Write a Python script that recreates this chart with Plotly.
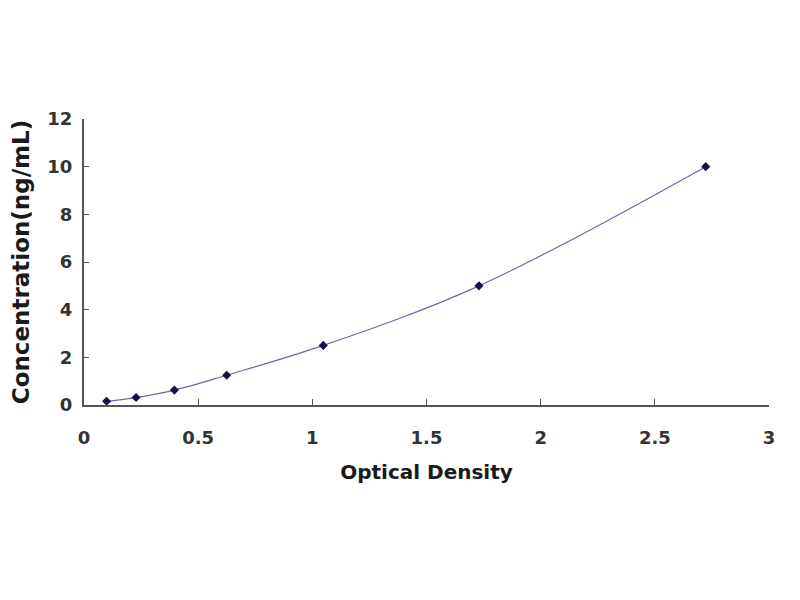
import plotly.graph_objects as go

# standard curve: optical density vs concentration
od = [0.099, 0.228, 0.396, 0.625, 1.048, 1.730, 2.723]
conc = [0.156, 0.312, 0.625, 1.25, 2.5, 5, 10]

x_ticks = [0, 0.5, 1, 1.5, 2, 2.5, 3]
y_ticks = [0, 2, 4, 6, 8, 10, 12]

fnt = "DejaVu Sans"

curve = go.Scatter(x=od, y=conc, mode="lines", line_shape="spline",
                   line=dict(color="#6a6aa8", width=1.2),
                   hoverinfo="skip", showlegend=False)
pts = go.Scatter(x=od, y=conc, mode="markers",
                 marker=dict(symbol="diamond", size=7, color="#12124a"),
                 showlegend=False)

fig = go.Figure(data=[curve, pts])
# page body adds 8px, so margins are shifted to keep the plot box at 84..769 / 119..405
fig.update_layout(
    width=800, height=600,
    paper_bgcolor="white", plot_bgcolor="white",
    margin=dict(l=76, r=39, t=111, b=203),
    font=dict(family=fnt, color="#333333"),
)
fig.update_xaxes(range=[0, 3], tickvals=x_ticks, ticktext=[f"{v:g}" for v in x_ticks],
                 showgrid=False, zeroline=False, showline=True, linecolor="#555555",
                 linewidth=2, ticks="inside", ticklen=6, tickcolor="#555555",
                 ticklabelstandoff=15, automargin=False,
                 tickfont=dict(size=18, family=fnt, weight="bold"),
                 title=dict(text="<b>Optical Density</b>", font=dict(size=20, color="#1a1a1a"),
                            standoff=18))
fig.update_yaxes(range=[0, 12], tickvals=y_ticks,
                 showgrid=False, zeroline=False, showline=True, linecolor="#555555",
                 linewidth=2, ticks="inside", ticklen=5, tickcolor="#555555",
                 ticklabelstandoff=6, automargin=False,
                 tickfont=dict(size=18, family=fnt, weight="bold"),
                 title=dict(text="<b>Concentration(ng/mL)</b>", font=dict(size=23, color="#1a1a1a"),
                            standoff=25))

fig.write_html("out.html")
